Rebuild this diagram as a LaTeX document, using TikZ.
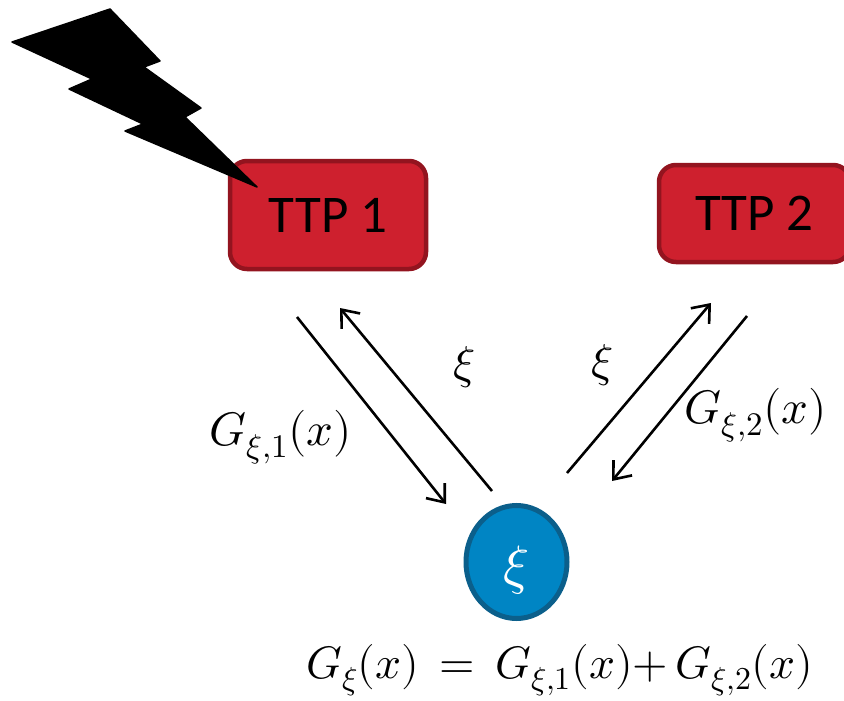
\documentclass[tikz,border=0pt]{standalone}
\usepackage{fontspec}
\usepackage{amsmath}
\setmainfont{Carlito}
\usepackage{unicode-math}
\setmathfont{Latin Modern Math}
\usetikzlibrary{arrows.meta,shapes.geometric}
\begin{document}
\begin{tikzpicture}[x=1pt,y=-1pt,
  ttp/.style={draw=ttpedge,fill=ttpfill,line width=4.5pt,rounded corners=17pt,text=black,font=\fontsize{53}{58}\selectfont,inner sep=0pt,anchor=center},
  arr/.style={line width=2.6pt,-{Straight Barb[length=15pt,width=24pt,line width=2.6pt]}},
  lab/.style={font=\fontsize{47}{52}\selectfont,inner sep=0pt}]
\definecolor{ttpfill}{HTML}{CE202E}
\definecolor{ttpedge}{HTML}{93141F}
\definecolor{bluefill}{HTML}{0085C4}
\definecolor{blueedge}{HTML}{0B5F8B}
\useasboundingbox (0,0) rectangle (844,701);
\node[ttp,minimum width=196pt,minimum height=108pt] (t1) at (328,215) {TTP 1};
\node[ttp,minimum width=191pt,minimum height=97pt] (t2) at (754.5,213.5) {TTP 2};
\fill[black,draw=black,line width=1.5pt,line join=round] (12,42) -- (110,9) -- (160,61) -- (144,67) -- (201,108) -- (185,117) -- (257,187) -- (125,131) -- (143,124) -- (69,89) -- (92,79) -- cycle;
\node[draw=blueedge,fill=bluefill,line width=5pt,ellipse,minimum width=101pt,minimum height=113pt,inner sep=0pt] (xi) at (516.5,562) {};
\node[text=white,font=\fontsize{54}{58}\selectfont,inner sep=0pt] (xit) at (516.5,570) {$\xi$};
\coordinate (a1s) at (297,317); \coordinate (a1e) at (446,504);
\coordinate (a2s) at (492,491); \coordinate (a2e) at (340,308);
\coordinate (a3s) at (567,473); \coordinate (a3e) at (711,303);
\coordinate (a4s) at (747,316); \coordinate (a4e) at (612,481);
\draw[arr] (a1s) -- (a1e);
\draw[arr] (a2s) -- (a2e);
\draw[arr] (a3s) -- (a3e);
\draw[arr] (a4s) -- (a4e);
\node[lab] (l1) at (281,437) {$G_{\xi,1}(x)$};
\node[lab,font=\fontsize{46}{50}\selectfont] (l2) at (464,367) {$\xi$};
\node[lab,font=\fontsize{46}{50}\selectfont] (l3) at (602,365) {$\xi$};
\node[lab] (l4) at (756,415) {$G_{\xi,2}(x)$};
\node[lab,font=\fontsize{45.5}{50}\selectfont] (eq) at (560,670) {$G_{\xi}(x)\,=\,G_{\xi,1}(x){+}\,G_{\xi,2}(x)$};
\end{tikzpicture}
\end{document}
